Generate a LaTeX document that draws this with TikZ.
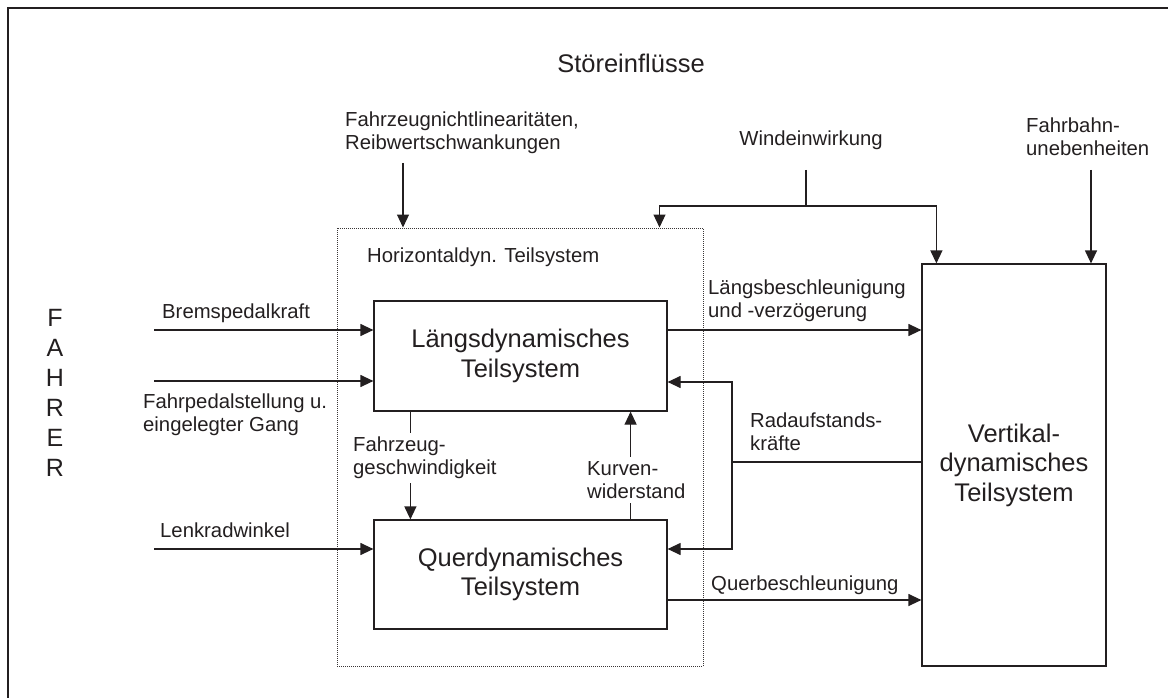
\documentclass[tikz,border=0pt]{standalone}
\usepackage{fontspec}
\setmainfont{Liberation Sans}
\usepackage{xcolor}
\definecolor{inkGray}{HTML}{231F20}
\usepackage{tikz}
\usetikzlibrary{arrows.meta, positioning}

\begin{document}
\begin{tikzpicture}[
		x=1pt, y=-1pt,
		every node/.style={inner sep=0pt, text=inkGray},
		box/.style={
			draw=inkGray,
			line width=1.2pt,
			align=center,
			font=\fontsize{25.5}{29.5}\selectfont
		},
		lbl/.style={align=left, font=\fontsize{20.3}{23}\selectfont},
		cutlbl/.style={lbl, fill=white, inner sep=4pt},
		conn/.style={line width=1.2pt, draw=inkGray},
		arrow/.style={conn, -{Triangle[length=13pt, width=12pt]}}
		]
		
		\useasboundingbox (0,0) rectangle (1168,698);
		\draw[inkGray, line width=2pt] (8,698) -- (8,8) -- (1168,8);
		
		% subsystems
		\node[draw=inkGray!90, line width=1pt, dash pattern=on 1pt off 1pt,
			minimum width=366pt, minimum height=438pt] (horiz) at (520,447) {};
		\node[lbl, anchor=west] (horizlbl) at (367,257) {Horizontaldyn. Teilsystem};
		\node[box, minimum width=293pt, minimum height=110pt] (laengs) at (520.5,356) {Längsdynamisches\\Teilsystem};
		\node[box, minimum width=293pt, minimum height=109pt] (quer) at (520.5,574.5) {Querdynamisches\\Teilsystem};
		\node[box, minimum width=184pt, minimum height=402pt] (vert) at (1014,465) {Vertikal-\\dynamisches\\Teilsystem};
		
		% disturbances
		\node[font=\fontsize{25.5}{29.5}\selectfont] (stoer) at (631,63) {Störeinflüsse};
		\node[lbl, anchor=west] (nonlin) at (345,133) {Fahrzeugnichtlinearitäten,\\Reibwertschwankungen};
		\node[lbl] (wind) at (811,140) {Windeinwirkung};
		\node[lbl, anchor=west] (road) at (1026,137) {Fahrbahn-\\unebenheiten};
		\coordinate (nonlinout) at (403,163);
		\coordinate (windout) at (806,170);
		\coordinate (windsplit) at (806,206);
		\coordinate (roadout) at (1091,170);
		\draw[arrow] (nonlinout) -- (nonlinout |- horiz.north);
		\draw[conn] (windout) -- (windsplit);
		\draw[arrow] (windsplit) -| ([xshift=-44pt]horiz.north east);
		\draw[arrow] (windsplit) -| ([xshift=15pt]vert.north west);
		\draw[arrow] (roadout) -- (roadout |- vert.north);
		
		% driver inputs
		\node[font=\fontsize{25}{30}\selectfont, align=center] (fahrer) at (55,393) {F\\A\\H\\R\\E\\R};
		\coordinate (brems) at (154,330);
		\coordinate (gas) at (154,381);
		\coordinate (lenk) at (154,549);
		\draw[arrow] (brems) -- (brems -| laengs.west);
		\draw[arrow] (gas) -- (gas -| laengs.west);
		\draw[arrow] (lenk) -- (lenk -| quer.west);
		\node[lbl, anchor=west] (bremslbl) at (162,313) {Bremspedalkraft};
		\node[lbl, anchor=west] (gaslbl) at (143,415) {Fahrpedalstellung u.\\eingelegter Gang};
		\node[lbl, anchor=west] (lenklbl) at (160,530) {Lenkradwinkel};
		
		% couplings
		\draw[arrow] ([yshift=26pt]laengs.east) -- ([yshift=26pt]laengs.east -| vert.west);
		\draw[arrow] ([yshift=-25.5pt]quer.east) -- ([yshift=-25.5pt]quer.east -| vert.west);
		\coordinate (radsplit) at (732,462);
		\draw[conn] (vert.west |- radsplit) -- (radsplit);
		\draw[arrow] (radsplit) |- ([yshift=-26pt]laengs.east);
		\draw[arrow] (radsplit) |- ([yshift=25.5pt]quer.east);
		\draw[arrow] ([xshift=37pt]laengs.south west) -- ([xshift=37pt]quer.north west);
		\draw[arrow] ([xshift=-37pt]quer.north east) -- ([xshift=-37pt]laengs.south east);
		\node[lbl, anchor=west] (laengsacc) at (708,301) {Längsbeschleunigung\\und -verzögerung};
		\node[lbl, anchor=west] (queracc) at (711,585) {Querbeschleunigung};
		\node[lbl, anchor=west] (radlbl) at (750,432) {Radaufstands-\\kräfte};
		\node[cutlbl, anchor=west] (speed) at (349,458) {Fahrzeug-\\geschwindigkeit};
		\node[cutlbl, anchor=west] (kurve) at (583,480) {Kurven-\\widerstand};
		
	\end{tikzpicture}
\end{document}
